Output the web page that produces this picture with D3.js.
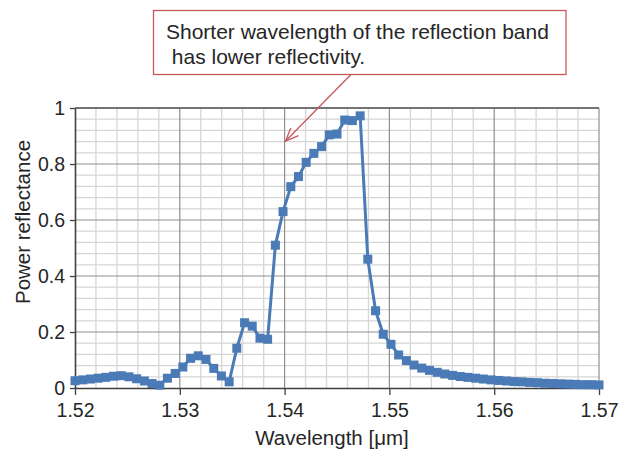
<!DOCTYPE html>
<html>
<head>
<meta charset="utf-8">
<script src="https://cdn.jsdelivr.net/npm/d3@7"></script>
<style>
  html, body { margin: 0; padding: 0; background: #fff; }
  svg { display: block; font-family: "Liberation Sans", Arial, sans-serif; }
</style>
</head>
<body>
<svg id="chart" width="624" height="450"></svg>
<script>
// Wavelength samples [µm]
const wavelength = [
  1.52000, 1.52074, 1.52147, 1.52221, 1.52294, 1.52368, 1.52441, 1.52515, 1.52588, 1.52662,
  1.52735, 1.52809, 1.52882, 1.52956, 1.53029, 1.53103, 1.53176, 1.53250, 1.53324, 1.53397,
  1.53471, 1.53544, 1.53618, 1.53691, 1.53765, 1.53838, 1.53912, 1.53985, 1.54059, 1.54132,
  1.54206, 1.54279, 1.54353, 1.54426, 1.54500, 1.54574, 1.54647, 1.54721, 1.54794, 1.54868,
  1.54941, 1.55015, 1.55088, 1.55162, 1.55235, 1.55309, 1.55382, 1.55456, 1.55529, 1.55603,
  1.55676, 1.55750, 1.55824, 1.55897, 1.55971, 1.56044, 1.56118, 1.56191, 1.56265, 1.56338,
  1.56412, 1.56485, 1.56559, 1.56632, 1.56706, 1.56779, 1.56853, 1.56926, 1.57000
];

// Measured power reflectance at each wavelength
const reflectance = [
  0.026, 0.029, 0.032, 0.035, 0.038, 0.042, 0.044, 0.040, 0.033, 0.025,
  0.016, 0.010, 0.035, 0.052, 0.075, 0.106, 0.115, 0.102, 0.070, 0.043,
  0.022, 0.142, 0.233, 0.221, 0.178, 0.174, 0.510, 0.630, 0.719, 0.755,
  0.806, 0.838, 0.862, 0.904, 0.907, 0.957, 0.955, 0.972, 0.460, 0.276,
  0.192, 0.156, 0.118, 0.098, 0.082, 0.071, 0.063, 0.056, 0.050, 0.045,
  0.041, 0.038, 0.035, 0.032, 0.029, 0.027, 0.025, 0.023, 0.022, 0.020,
  0.019, 0.017, 0.016, 0.015, 0.014, 0.013, 0.012, 0.012, 0.011
];

const xTicks = [1.52, 1.53, 1.54, 1.55, 1.56, 1.57];
const yTicks = [0, 0.2, 0.4, 0.6, 0.8, 1];
const xLabel = "Wavelength [\u03bcm]";
const yLabel = "Power reflectance";
const noteLines = ["Shorter wavelength of the reflection band", " has lower reflectivity."];
// Point on the curve that the note refers to
const notePoint = { x: 1.54, y: 0.882 };

const svg = d3.select("#chart");
const plot = { left: 75, right: 599, top: 108, bottom: 388 };

const x = d3.scaleLinear().domain([1.52, 1.57]).range([plot.left, plot.right]);
const y = d3.scaleLinear().domain([0, 1]).range([plot.bottom, plot.top]);

const grid = svg.append("g");
// minor grid
const xMinor = d3.range(0, 26).map(i => 1.52 + i * 0.002).filter((v, i) => i % 5 !== 0);
const yMinor = d3.range(0, 26).map(i => i * 0.04).filter((v, i) => i % 5 !== 0);
grid.selectAll(".xm").data(xMinor).join("line")
  .attr("x1", d => x(d)).attr("x2", d => x(d))
  .attr("y1", plot.top).attr("y2", plot.bottom)
  .attr("stroke", "#d6d6d6").attr("stroke-width", 1.3);
grid.selectAll(".ym").data(yMinor).join("line")
  .attr("x1", plot.left).attr("x2", plot.right)
  .attr("y1", d => y(d)).attr("y2", d => y(d))
  .attr("stroke", "#d6d6d6").attr("stroke-width", 1.3);
// major grid
grid.selectAll(".xM").data(xTicks.slice(1)).join("line")
  .attr("x1", d => x(d)).attr("x2", d => x(d))
  .attr("y1", plot.top).attr("y2", plot.bottom)
  .attr("stroke", "#8f8f8f").attr("stroke-width", 1.2);
grid.selectAll(".yM").data(yTicks.slice(1)).join("line")
  .attr("x1", plot.left).attr("x2", plot.right)
  .attr("y1", d => y(d)).attr("y2", d => y(d))
  .attr("stroke", "#8f8f8f").attr("stroke-width", 1.2);
// top border
grid.append("line")
  .attr("x1", plot.left).attr("x2", plot.right)
  .attr("y1", plot.top).attr("y2", plot.top)
  .attr("stroke", "#595959").attr("stroke-width", 1.6);

// axes
const xAxis = d3.axisBottom(x).tickValues(xTicks).tickFormat(d3.format(".2f"))
  .tickSizeInner(7).tickSizeOuter(0).tickPadding(8);
const yAxis = d3.axisLeft(y).tickValues(yTicks).tickFormat(d => d === 0 || d === 1 ? String(d) : d3.format(".1f")(d))
  .tickSizeInner(5).tickSizeOuter(0).tickPadding(5);

const gx = svg.append("g").attr("transform", `translate(0,${plot.bottom})`).call(xAxis);
const gy = svg.append("g").attr("transform", `translate(${plot.left},0)`).call(yAxis);
[gx, gy].forEach(g => {
  g.select(".domain").attr("stroke", "#404040").attr("stroke-width", 1.6);
  g.selectAll(".tick line").attr("stroke", "#404040").attr("stroke-width", 1.3);
  g.selectAll(".tick text").attr("fill", "#262626").attr("font-size", 19.5)
    .attr("font-family", "'Liberation Sans', Arial, sans-serif");
});
gy.selectAll(".tick text").attr("dy", "0.34em");

// series
const pts = wavelength.map((w, i) => ({ w, r: reflectance[i] }));
const color = "#4a7bb6";
svg.append("path").datum(pts)
  .attr("fill", "none").attr("stroke", color).attr("stroke-width", 3)
  .attr("stroke-linejoin", "round")
  .attr("d", d3.line().x(d => x(d.w)).y(d => y(d.r)));
const ms = 9;
svg.append("g").selectAll("rect").data(pts).join("rect")
  .attr("x", d => x(d.w) - ms / 2).attr("y", d => y(d.r) - ms / 2)
  .attr("width", ms).attr("height", ms).attr("fill", color);

// axis titles
svg.append("text").attr("x", 332).attr("y", 445).attr("text-anchor", "middle")
  .attr("font-size", 20.5).attr("fill", "#262626").text(xLabel);
svg.append("text").attr("transform", "translate(30,222) rotate(-90)").attr("text-anchor", "middle")
  .attr("font-size", 20.5).attr("fill", "#262626").text(yLabel);

// annotation callout
const red = "#c8585a";
svg.append("rect").attr("x", 153.5).attr("y", 10.5).attr("width", 412.5).attr("height", 64)
  .attr("fill", "#fff").attr("stroke", red).attr("stroke-width", 1.3);
const note = svg.append("text").attr("font-size", 21).attr("fill", "#262626")
  .attr("xml:space", "preserve").style("white-space", "pre");
note.append("tspan").attr("x", 166).attr("y", 38.5).text(noteLines[0]);
note.append("tspan").attr("x", 166).attr("y", 63.5).text(noteLines[1]);

const ax0 = 351, ay0 = 74.5;
const tx = x(notePoint.x) + 1, ty = y(notePoint.y);
svg.append("line").attr("x1", ax0).attr("y1", ay0).attr("x2", tx).attr("y2", ty)
  .attr("stroke", red).attr("stroke-width", 1.3);
const ang = Math.atan2(ty - ay0, tx - ax0);
const hl = 14, hw = 0.4;
svg.append("path")
  .attr("d", `M${tx - hl * Math.cos(ang - hw)},${ty - hl * Math.sin(ang - hw)} L${tx},${ty} L${tx - hl * Math.cos(ang + hw)},${ty - hl * Math.sin(ang + hw)}`)
  .attr("fill", "none").attr("stroke", red).attr("stroke-width", 1.3);
</script>
</body>
</html>
